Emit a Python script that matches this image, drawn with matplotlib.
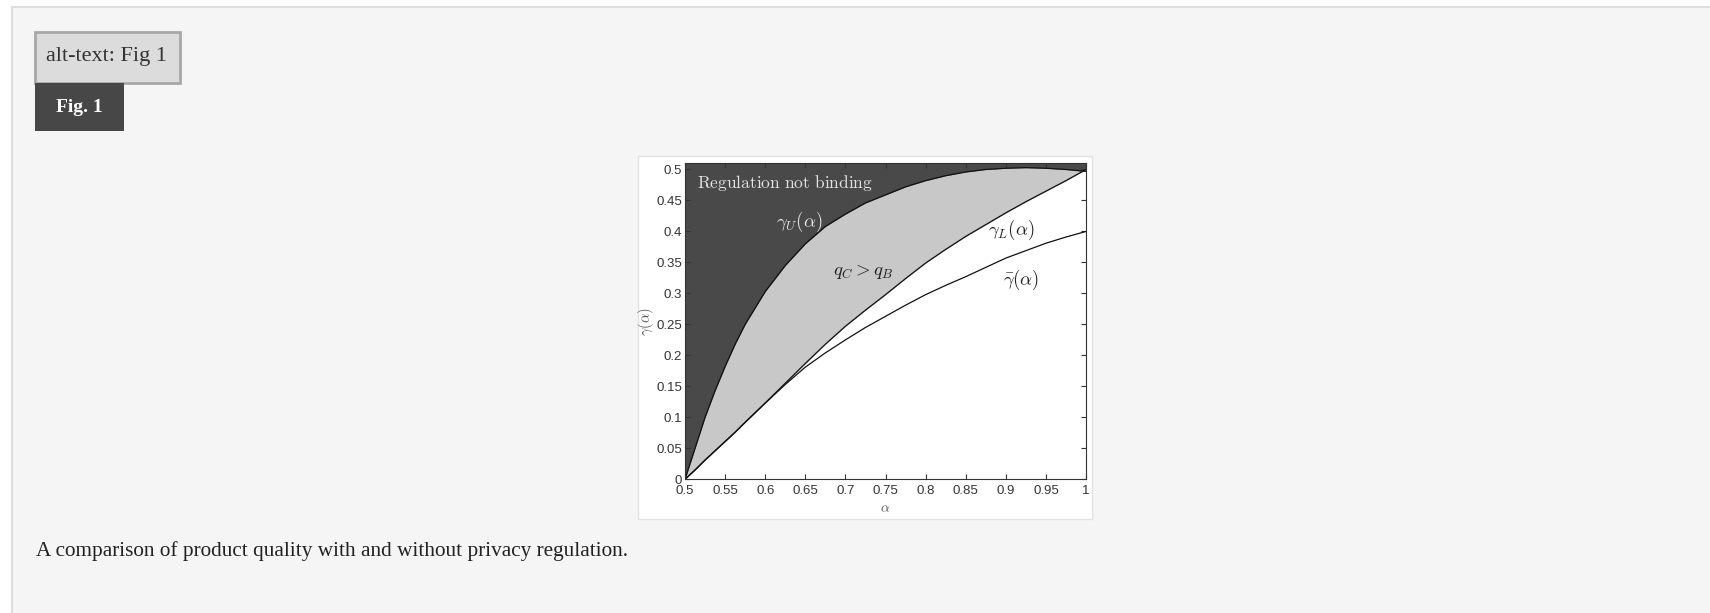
import numpy as np
import matplotlib
matplotlib.use("Agg")
import matplotlib.pyplot as plt
from matplotlib.patches import Rectangle
from matplotlib.lines import Line2D

plt.rcParams['mathtext.fontset'] = 'cm'

# regulation boundaries read on a grid of alpha
alpha = [0.5, 0.5125, 0.525, 0.5375, 0.55, 0.5625, 0.575, 0.6, 0.625, 0.65, 0.675,
         0.7, 0.725, 0.75, 0.775, 0.8, 0.825, 0.85, 0.875, 0.9, 0.925, 0.95, 0.975, 1.0]
gamma_U = [0.0, 0.05, 0.1, 0.143, 0.182, 0.218, 0.25, 0.303, 0.345, 0.38, 0.408,
           0.428, 0.446, 0.459, 0.472, 0.482, 0.49, 0.496, 0.5, 0.502, 0.503, 0.502, 0.5, 0.497]
gamma_L = [0.0, 0.015, 0.031, 0.046, 0.061, 0.076, 0.092, 0.123, 0.155, 0.187, 0.218,
           0.247, 0.273, 0.298, 0.324, 0.349, 0.371, 0.392, 0.411, 0.43, 0.448, 0.465, 0.482, 0.5]
gamma_bar = [0.0, 0.015, 0.031, 0.046, 0.061, 0.076, 0.092, 0.123, 0.153, 0.181, 0.204,
             0.225, 0.245, 0.263, 0.281, 0.298, 0.313, 0.327, 0.342, 0.357, 0.369, 0.381, 0.391, 0.4]

x_ticks = [0.5, 0.55, 0.6, 0.65, 0.7, 0.75, 0.8, 0.85, 0.9, 0.95, 1.0]
x_labels = ['0.5', '0.55', '0.6', '0.65', '0.7', '0.75', '0.8', '0.85', '0.9', '0.95', '1']
y_ticks = [0, 0.05, 0.1, 0.15, 0.2, 0.25, 0.3, 0.35, 0.4, 0.45, 0.5]
y_labels = ['0', '0.05', '0.1', '0.15', '0.2', '0.25', '0.3', '0.35', '0.4', '0.45', '0.5']

W, H = 1710, 613
fig = plt.figure(figsize=(W / 100, H / 100), dpi=100)
fig.patch.set_facecolor('white')


def px_rect(x0, y0, x1, y1, **kw):
    # rectangle given in pixel coords measured from the top-left corner
    r = Rectangle((x0 / W, 1 - y1 / H), (x1 - x0) / W, (y1 - y0) / H,
                  transform=fig.transFigure, zorder=-2, **kw)
    fig.patches.append(r)
    return r


def px_line(xs, ys, **kw):
    fig.lines.append(Line2D([x / W for x in xs], [1 - y / H for y in ys],
                            transform=fig.transFigure, zorder=-1, **kw))


# page panel
px_rect(12, 7, W + 5, H + 5, facecolor='#f5f5f5', edgecolor='none')
px_line([12, W], [7, 7], color='#dedede', lw=1.5)
px_line([12, 12], [7, H], color='#dedede', lw=1.5)

# alt-text box and figure tag
px_rect(35, 32, 180, 83, facecolor='#dcdcdc', edgecolor='#a8a8a8', lw=2)
fig.text(46 / W, 1 - 57 / H, 'alt-text: Fig 1', family='Liberation Serif',
         fontsize=16, color='#333333', va='center', ha='left')
px_rect(35, 83, 124, 131, facecolor='#474747', edgecolor='none')
fig.text(79.5 / W, 1 - 107 / H, 'Fig. 1', family='Liberation Serif',
         fontsize=14, weight='bold', color='white', va='center', ha='center')

# white frame behind the plot
px_rect(638, 156, 1092, 519, facecolor='white', edgecolor='#e2e2e2', lw=1)

fig.text(36 / W, 1 - 551 / H,
         'A comparison of product quality with and without privacy regulation.',
         family='Liberation Serif', fontsize=15.3, color='#222222',
         va='center', ha='left')

ax = fig.add_axes([685 / W, 1 - 479.3 / H, (1086 - 685) / W, (479.3 - 163.3) / H])
ax.set_zorder(5)
ax.set_facecolor('#494949')
ax.fill_between(alpha, gamma_L, gamma_U, color='#c8c8c8', lw=0)
ax.fill_between(alpha, 0, gamma_L, color='white', lw=0)
ax.plot(alpha, gamma_U, color='#111111', lw=0.9)
ax.plot(alpha, gamma_L, color='#111111', lw=0.9)
ax.plot(alpha, gamma_bar, color='#111111', lw=0.9)

ax.set_xlim(0.5, 1.0)
ax.set_ylim(0, 0.51)
ax.set_xticks(x_ticks)
ax.set_xticklabels(x_labels)
ax.set_yticks(y_ticks)
ax.set_yticklabels(y_labels)
ax.tick_params(direction='in', length=3.5, width=0.8, color='#333333',
               labelsize=9.5, labelcolor='#333333', top=True, right=True, pad=2)
ax.tick_params(axis='x', pad=4)
for lab in ax.get_xticklabels() + ax.get_yticklabels():
    lab.set_family('Liberation Sans')
for sp in ax.spines.values():
    sp.set_color('#333333')
    sp.set_linewidth(0.8)

ax.set_xlabel(r'$\alpha$', fontsize=10, color='#555555', labelpad=3)
ax.set_ylabel(r'$\gamma(\alpha)$', fontsize=10.5, color='#555555', labelpad=0)

ax.text(0.5145, 0.478, r'$\mathrm{Regulation\ not\ binding}$', fontsize=12.5,
        color='#e4e4e4', va='center', ha='left')
ax.text(0.614, 0.416, r'$\gamma_U(\alpha)$', fontsize=13.5, color='#e4e4e4',
        va='center', ha='left')
ax.text(0.684, 0.335, r'$q_C > q_B$', fontsize=13.5, color='#222222',
        va='center', ha='left')
ax.text(0.878, 0.403, r'$\gamma_L(\alpha)$', fontsize=13.5, color='#222222',
        va='center', ha='left')
ax.text(0.896, 0.322, r'$\bar{\gamma}(\alpha)$', fontsize=13.5, color='#222222',
        va='center', ha='left')

fig.savefig('out.png', dpi=100, facecolor=fig.get_facecolor())
